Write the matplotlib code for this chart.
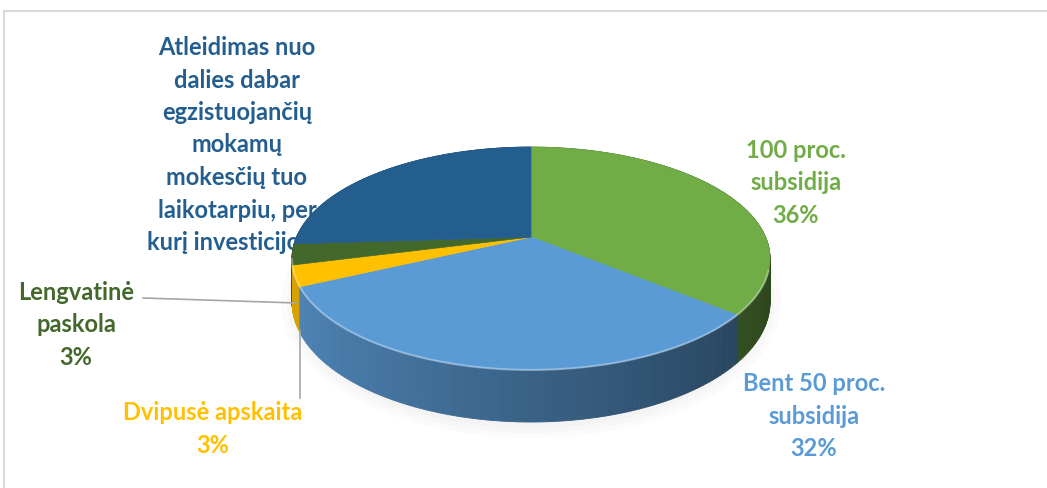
import numpy as np
import matplotlib
matplotlib.use("Agg")
import matplotlib.pyplot as plt
from matplotlib.patches import Polygon, Ellipse
from matplotlib.colors import to_rgb

# data (clockwise from 12 o'clock, as in Excel)
labels = ["100 proc.\nsubsidija", "Bent 50 proc.\nsubsidija", "Dvipusė apskaita",
          "Lengvatinė\npaskola",
          "Atleidimas nuo\ndalies dabar\negzistuojančių\nmokamų\nmokesčių tuo\nlaikotarpiu, per\nkurį investicijos..."]
values = [36, 32, 3, 3, 26]
colors = ["#70AD47", "#5B9BD5", "#FFC000", "#43682B", "#245E8F"]

# pie geometry in pixels (perspective-ish 3D pie)
cx, cy = 531, 237
C, B, k, D = 234.5, 107.3, 0.193, 42


def proj(th, drop=0.0):
    u = np.sin(th)
    v = -np.cos(th)
    s = 1.0 / (1.0 - k * v)
    return cx + C * u * s, cy + B * v * s + drop * s


fig = plt.figure(figsize=(10.47, 4.88), dpi=100)
ax = fig.add_axes([0, 0, 1, 1])
ax.set_xlim(0, 1047)
ax.set_ylim(488, 0)
ax.axis("off")

# chart border
ax.plot([4, 4, 1047], [488, 11, 11], color="#D9D9D9", lw=1.5, zorder=1)

# soft shadow under the pie
for i in range(8):
    ax.add_patch(Ellipse((cx, 302), 500 - i * 12, 272 - i * 10, facecolor="#808080",
                         alpha=0.03, edgecolor="none", zorder=2))

fracs = np.array(values) / sum(values)
bounds = np.concatenate([[0], np.cumsum(fracs)]) * 2 * np.pi

# sides
segs = []
for i, col in enumerate(colors):
    t = np.linspace(bounds[i], bounds[i + 1], max(int(fracs[i] * 400), 4))
    for a, b in zip(t[:-1], t[1:]):
        m = 0.5 * (a + b)
        segs.append((-np.cos(m), a, b, col, np.sin(m)))
segs.sort(key=lambda s: s[0])
for v, a, b, col, u in segs:
    x1, y1 = proj(a)
    x2, y2 = proj(b)
    x3, y3 = proj(b, D)
    x4, y4 = proj(a, D)
    f = 0.86 - 0.23 * (u + 1)
    c = tuple(np.array(to_rgb(col)) * f)
    ax.add_patch(Polygon([(x1, y1), (x2, y2), (x3, y3), (x4, y4)], closed=True,
                         facecolor=c, edgecolor=c, lw=0.6, zorder=3))

# top faces
for i, col in enumerate(colors):
    t = np.linspace(bounds[i], bounds[i + 1], max(int(fracs[i] * 400), 4))
    xs, ys = proj(t)
    pts = [(cx, cy)] + list(zip(xs, ys))
    ax.add_patch(Polygon(pts, closed=True, facecolor=col, edgecolor=col, lw=0.5, zorder=4))

# light rim on the front edge
t = np.linspace(np.pi / 2 + 0.3, 3 * np.pi / 2 - 0.2, 200)
xs, ys = proj(t)
ax.plot(xs, ys, color="white", alpha=0.35, lw=1.5, zorder=5)

font = dict(family=["Lato", "DejaVu Sans"], fontweight="bold", fontsize=17,
            ha="center", va="center", linespacing=1.5)

# labels
ax.text(796, 183, labels[0] + "\n36%", color=colors[0], zorder=6, **font)
ax.text(814, 416, labels[1] + "\n32%", color=colors[1], zorder=6, **font)
ax.text(213, 429, labels[2] + "\n3%", color=colors[2], zorder=6, **font)
ax.text(76, 325, labels[3] + "\n3%", color=colors[3], zorder=6, **font)
ax.text(237, 145, labels[4], color=colors[4], zorder=2.5, **font)

# leader lines
ax.plot([143, 297], [298, 303], color="#A6A6A6", lw=1.2, zorder=6)
ax.plot([300, 300], [398, 330], color="#A6A6A6", lw=1.2, zorder=6)

fig.savefig("out.png", dpi=100)
